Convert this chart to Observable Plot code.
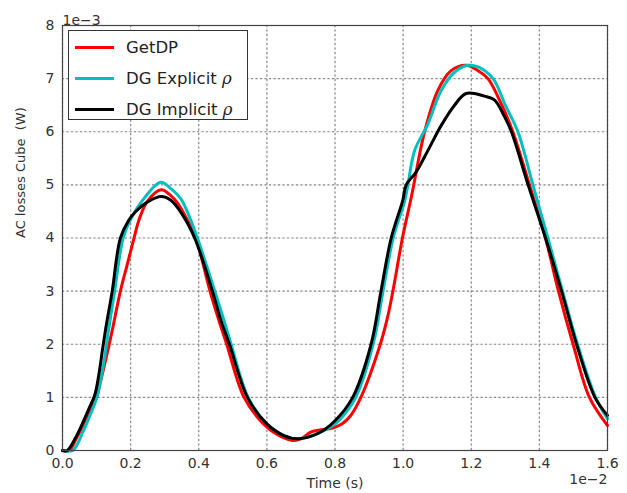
<!DOCTYPE html>
<html>
<head>
<meta charset="utf-8">
<script src="https://cdn.jsdelivr.net/npm/d3@7"></script>
<script src="https://cdn.jsdelivr.net/npm/@observablehq/plot@0.6"></script>
<style>
  body { margin: 0; background: #fff; font-family: "DejaVu Sans", sans-serif; }
  #wrap { position: relative; width: 627px; height: 493px; }
  #legend { position: absolute; left: 68px; top: 30px; width: 178px; height: 88px; border: 1.5px solid #333; background: #fff; }
  .row { position: absolute; left: 0; height: 20px; display: flex; align-items: center; font-size: 16.5px; color: #222; }
  .sw { display: inline-block; width: 39px; height: 3px; margin-left: 6px; margin-right: 12px; }
  .rho { font-family: "DejaVu Serif", serif; font-style: italic; }
</style>
</head>
<body>
<div id="wrap"></div>
<script>
// Time in units of 1e-2 s, losses in units of 1e-3 W
const seriesNames = ["GetDP", "DG Explicit ρ", "DG Implicit ρ"];
const seriesColors = ["#ff0000", "#00bfbf", "#000000"];

const getdpT = [0, 0.02, 0.04, 0.07, 0.10, 0.11, 0.13, 0.146, 0.17, 0.19, 0.21, 0.225, 0.25, 0.29, 0.33, 0.36, 0.391, 0.433, 0.459, 0.482, 0.533, 0.59, 0.63, 0.675, 0.70, 0.73, 0.76, 0.79, 0.82, 0.845, 0.876, 0.933, 0.954, 0.97, 0.998, 1.025, 1.063, 1.102, 1.141, 1.185, 1.22, 1.249, 1.29, 1.322, 1.371, 1.418, 1.456, 1.499, 1.547, 1.6];
const getdpP = [0, 0, 0.22, 0.6, 1.0, 1.25, 1.8, 2.26, 3.0, 3.5, 4.0, 4.35, 4.7, 4.91, 4.72, 4.42, 4.0, 3.0, 2.45, 2.0, 1.0, 0.5, 0.3, 0.19, 0.22, 0.35, 0.39, 0.42, 0.5, 0.65, 1.0, 2.0, 2.5, 3.0, 4.0, 4.8, 6.0, 6.78, 7.15, 7.25, 7.15, 7.0, 6.5, 6.0, 5.0, 4.0, 3.0, 2.0, 1.0, 0.47];

const explicitT = [0, 0.03, 0.06, 0.08, 0.10, 0.12, 0.135, 0.153, 0.178, 0.20, 0.24, 0.288, 0.32, 0.347, 0.37, 0.396, 0.447, 0.474, 0.495, 0.545, 0.60, 0.65, 0.69, 0.74, 0.80, 0.83, 0.861, 0.912, 0.941, 0.971, 1.005, 1.014, 1.034, 1.073, 1.112, 1.151, 1.19, 1.22, 1.264, 1.30, 1.337, 1.381, 1.425, 1.468, 1.512, 1.565, 1.6];
const explicitP = [0, 0, 0.35, 0.65, 0.98, 1.6, 2.26, 3.0, 4.0, 4.35, 4.75, 5.05, 4.92, 4.74, 4.44, 4.0, 3.0, 2.45, 2.0, 1.0, 0.5, 0.28, 0.22, 0.3, 0.5, 0.7, 1.0, 2.0, 3.0, 4.0, 4.71, 5.0, 5.65, 6.15, 6.78, 7.12, 7.25, 7.22, 7.0, 6.5, 6.0, 5.0, 4.0, 3.0, 2.0, 1.0, 0.6];

const implicitT = [0, 0.014, 0.04, 0.077, 0.095, 0.107, 0.117, 0.126, 0.131, 0.146, 0.17, 0.194, 0.215, 0.25, 0.29, 0.318, 0.35, 0.388, 0.44, 0.465, 0.49, 0.543, 0.60, 0.65, 0.69, 0.75, 0.80, 0.852, 0.906, 0.935, 0.965, 0.999, 1.009, 1.038, 1.073, 1.112, 1.151, 1.185, 1.239, 1.268, 1.298, 1.318, 1.367, 1.418, 1.465, 1.509, 1.563, 1.6];
const implicitP = [0, 0, 0.26, 0.78, 1.05, 1.44, 1.88, 2.26, 2.45, 3.0, 4.0, 4.33, 4.5, 4.68, 4.78, 4.71, 4.46, 4.0, 3.0, 2.45, 2.0, 1.0, 0.5, 0.28, 0.22, 0.32, 0.56, 1.0, 2.0, 3.0, 4.0, 4.71, 5.0, 5.24, 5.65, 6.12, 6.5, 6.72, 6.67, 6.6, 6.28, 6.0, 5.0, 4.0, 3.0, 2.0, 1.0, 0.66];

const xTicks = [0, 0.2, 0.4, 0.6, 0.8, 1.0, 1.2, 1.4, 1.6];
const yTicks = [0, 1, 2, 3, 4, 5, 6, 7, 8];
const xLabel = "Time (s)";
const yLabel = "AC losses Cube\u00a0 (W)";
const xOffsetLabel = "1e\u22122";
const yOffsetLabel = "1e\u22123";

const rows = [];
[[getdpT, getdpP], [explicitT, explicitP], [implicitT, implicitP]].forEach(([T, P], k) => {
  T.forEach((t, i) => rows.push({series: seriesNames[k], t, p: P[i]}));
});

const textColor = "#333";
const plot = Plot.plot({
  width: 627,
  height: 493,
  marginLeft: 62,
  marginRight: 20,
  marginTop: 25,
  marginBottom: 43,
  style: {fontFamily: "DejaVu Sans, sans-serif", fontSize: "14px", color: textColor, background: "#fff"},
  x: {domain: [0, 1.6], ticks: xTicks, grid: true},
  y: {domain: [0, 8], ticks: yTicks, grid: true},
  color: {domain: seriesNames, range: seriesColors},
  marks: [
    Plot.gridX({ticks: xTicks, stroke: "#888", strokeOpacity: 1, strokeWidth: 1.2, strokeDasharray: "2,2.5"}),
    Plot.gridY({ticks: yTicks, stroke: "#888", strokeOpacity: 1, strokeWidth: 1.2, strokeDasharray: "2,2.5"}),
    Plot.axisX({ticks: xTicks, tickSize: 0, tickPadding: 8, tickFormat: d3.format(".1f"), label: null}),
    Plot.axisY({ticks: yTicks, tickSize: 0, tickPadding: 8, tickFormat: d3.format("d"), label: null}),
    Plot.line(rows, {x: "t", y: "p", z: "series", stroke: "series", strokeWidth: 3, curve: "catmull-rom", strokeLinejoin: "round"}),
    Plot.frame({stroke: "#444", strokeWidth: 1.2}),
    Plot.text([xLabel], {frameAnchor: "bottom", dy: 37, fill: textColor, fontSize: 14}),
    Plot.text([xOffsetLabel], {frameAnchor: "bottom-right", textAnchor: "end", dy: 33, fill: textColor, fontSize: 14}),
    Plot.text([yOffsetLabel], {frameAnchor: "top-left", textAnchor: "start", dy: -10, fill: textColor, fontSize: 14}),
    Plot.text([yLabel], {frameAnchor: "left", rotate: -90, dx: -42, fill: textColor, fontSize: 13})
  ]
});

const wrap = document.getElementById("wrap");
wrap.appendChild(plot);

const legend = document.createElement("div");
legend.id = "legend";
const rowTops = [6, 37, 68];
seriesNames.forEach((name, k) => {
  const r = document.createElement("div");
  r.className = "row";
  r.style.top = rowTops[k] + "px";
  const sw = document.createElement("span");
  sw.className = "sw";
  sw.style.background = seriesColors[k];
  r.appendChild(sw);
  const label = document.createElement("span");
  if (name.endsWith("ρ")) {
    label.textContent = name.slice(0, -1);
    const rho = document.createElement("span");
    rho.className = "rho";
    rho.textContent = "ρ";
    label.appendChild(rho);
  } else {
    label.textContent = name;
  }
  r.appendChild(label);
  legend.appendChild(r);
});
wrap.appendChild(legend);
</script>
</body>
</html>
